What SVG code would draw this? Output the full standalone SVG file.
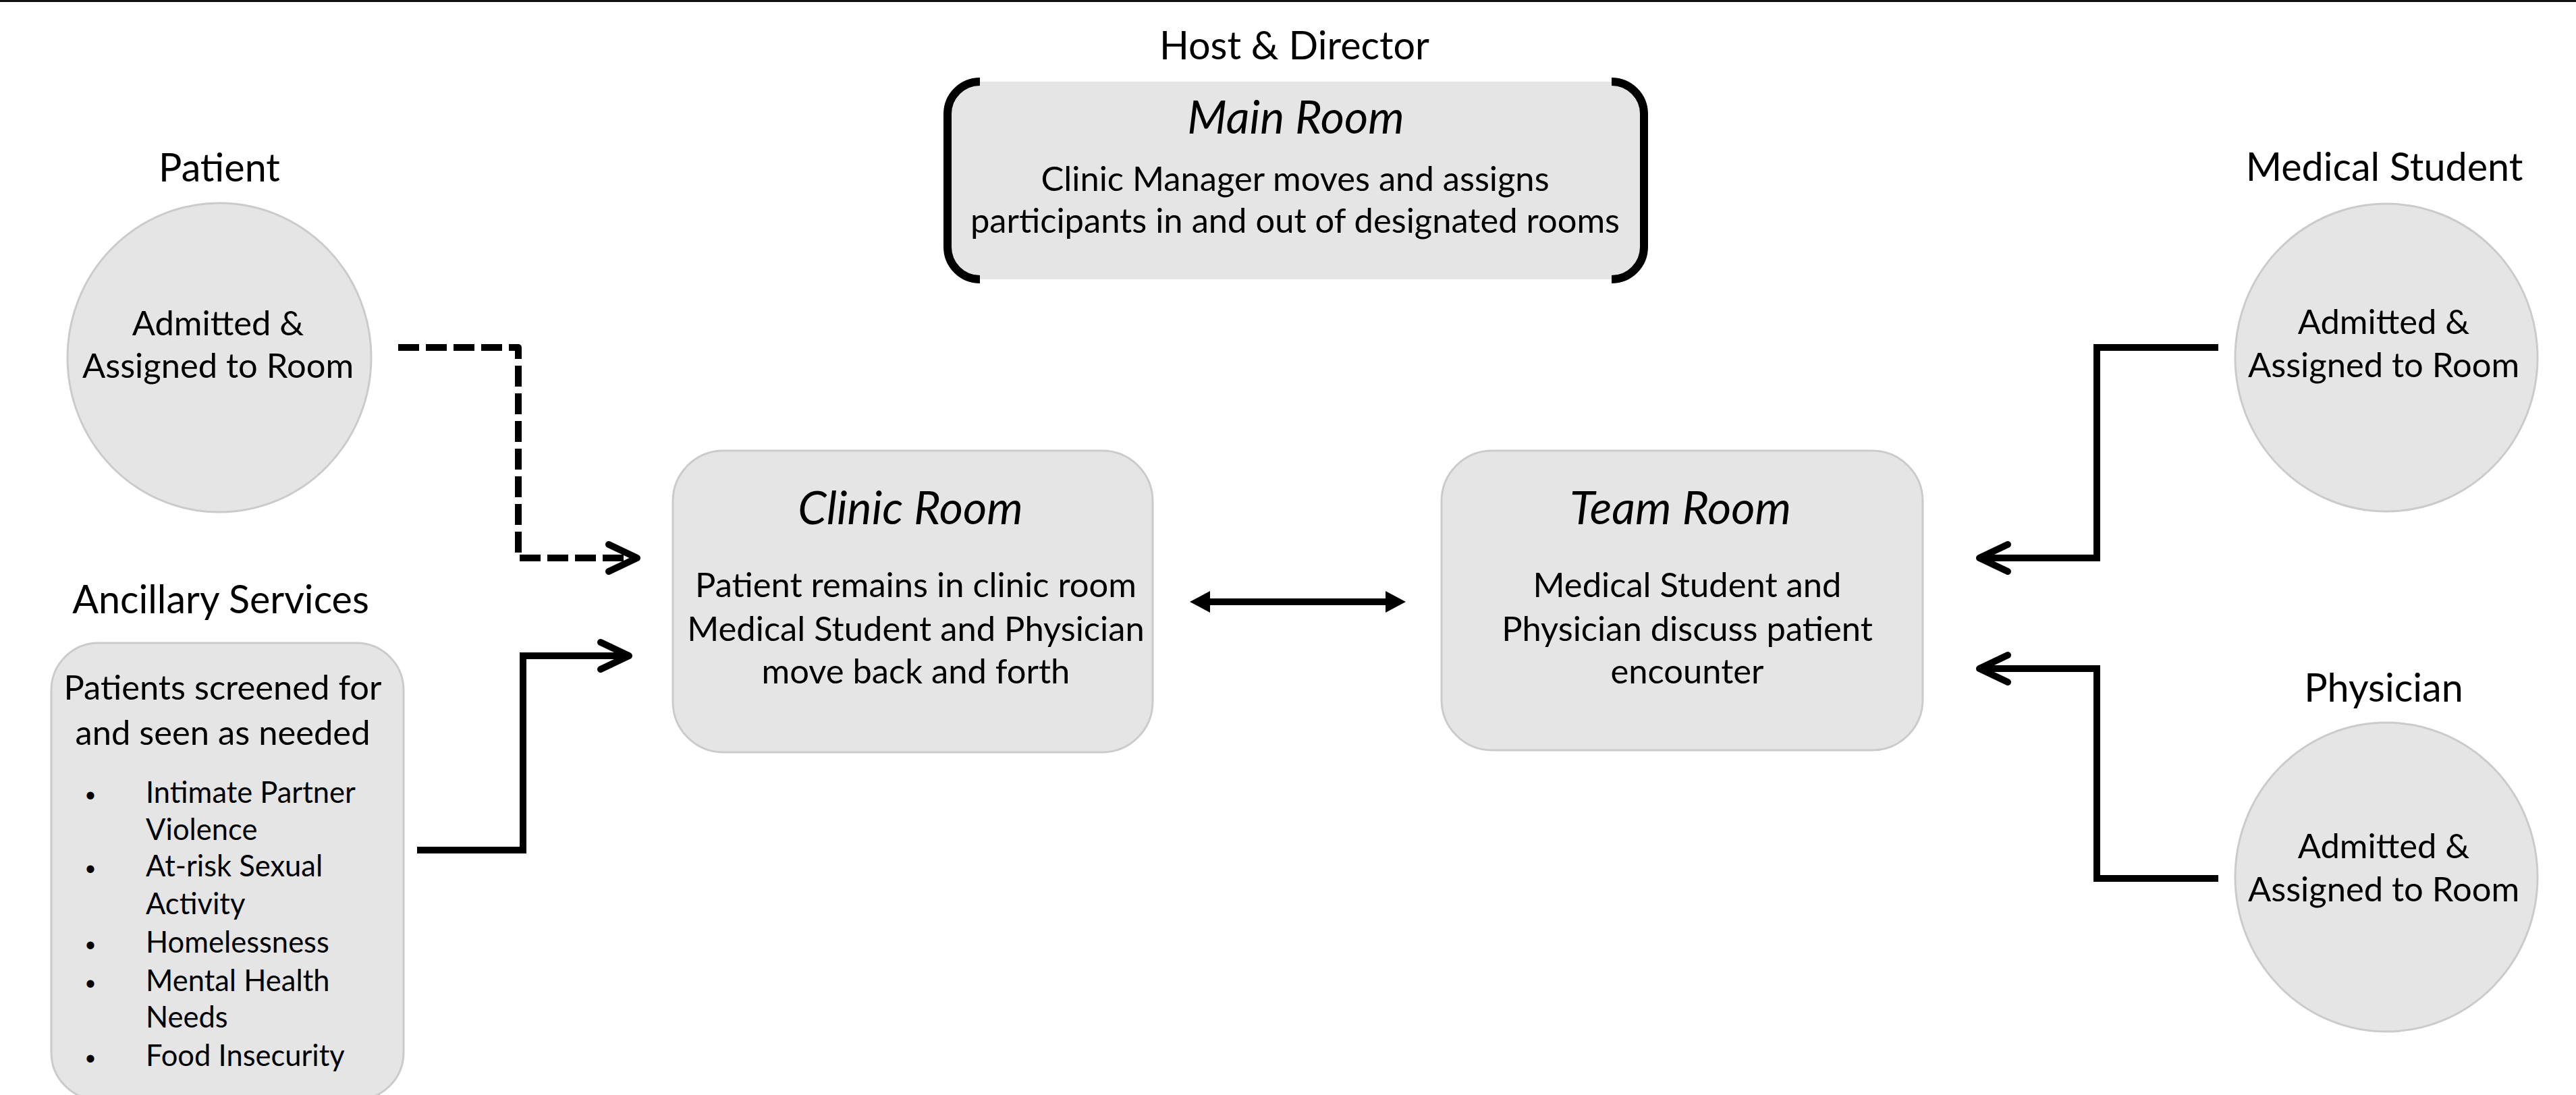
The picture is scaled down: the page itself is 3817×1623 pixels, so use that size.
<svg xmlns="http://www.w3.org/2000/svg" width="3817" height="1623" viewBox="0 0 3817 1623">
<style>
text{font-family:Lato,"Liberation Sans",sans-serif;fill:#000}
.lbl{font-size:57.5px;text-anchor:middle}
.body{font-size:50.7px;text-anchor:middle}
.ttl{font-size:68px;font-style:italic;text-anchor:middle}
.bul{font-size:43.5px}
.dot{font-size:30px;text-anchor:middle}
.shape{fill:#e5e5e5;stroke:#cbcbcb;stroke-width:3}
.ln{fill:none;stroke:#000;stroke-width:10;stroke-linejoin:miter}
.dash{fill:none;stroke:#000;stroke-width:10;stroke-dasharray:31 10;stroke-linejoin:round}
.head{fill:none;stroke:#000;stroke-width:10;stroke-linecap:round;stroke-linejoin:round}
.brk{fill:none;stroke:#000;stroke-width:12}
</style>
<rect x="0" y="0" width="3817" height="3" fill="#111"/>
<g id="main-room">
<text class="lbl" x="1918" y="88">Host &amp; Director</text>
<rect x="1404" y="121" width="1032" height="293" rx="48" fill="#e5e5e5"/>
<path class="brk" d="M1452,121 A48,48 0 0 0 1404,169 L1404,366 A48,48 0 0 0 1452,414"/>
<path class="brk" d="M2388,121 A48,48 0 0 1 2436,169 L2436,366 A48,48 0 0 1 2388,414"/>
<text class="ttl" x="1920" y="198">Main Room</text>
<text class="body" x="1919" y="283">Clinic Manager moves and assigns</text>
<text class="body" x="1919" y="345">participants in and out of designated rooms</text>
</g>
<g id="patient">
<text class="lbl" x="325" y="269">Patient</text>
<ellipse class="shape" cx="325" cy="530" rx="225" ry="229"/>
<text class="body" x="323" y="497">Admitted &amp;</text>
<text class="body" x="323" y="560">Assigned to Room</text>
</g>
<g id="ancillary">
<text class="lbl" x="327" y="909">Ancillary Services</text>
<rect class="shape" x="76" y="953" width="522" height="677" rx="70"/>
<text class="body" x="330" y="1037">Patients screened for</text>
<text class="body" x="330" y="1104">and seen as needed</text>
<g class="bul">
<text class="dot" x="134" y="1188">•</text><text x="216" y="1190">Intimate Partner</text>
<text x="216" y="1245">Violence</text>
<text class="dot" x="134" y="1297">•</text><text x="216" y="1299">At-risk Sexual</text>
<text x="216" y="1355">Activity</text>
<text class="dot" x="134" y="1410">•</text><text x="216" y="1412">Homelessness</text>
<text class="dot" x="134" y="1467">•</text><text x="216" y="1469">Mental Health</text>
<text x="216" y="1523">Needs</text>
<text class="dot" x="134" y="1578">•</text><text x="216" y="1580">Food Insecurity</text>
</g>
</g>
<g id="clinic-room">
<rect class="shape" x="997" y="668" width="711" height="447" rx="75"/>
<text class="ttl" x="1349" y="777">Clinic Room</text>
<text class="body" x="1357" y="885">Patient remains in clinic room</text>
<text class="body" x="1357" y="950">Medical Student and Physician</text>
<text class="body" x="1357" y="1013">move back and forth</text>
</g>
<g id="team-room">
<rect class="shape" x="2136" y="668" width="713" height="444" rx="75"/>
<text class="ttl" x="2490" y="777">Team Room</text>
<text class="body" x="2500" y="885">Medical Student and</text>
<text class="body" x="2500" y="950">Physician discuss patient</text>
<text class="body" x="2500" y="1013">encounter</text>
</g>
<g id="medical-student">
<text class="lbl" x="3533" y="268">Medical Student</text>
<ellipse class="shape" cx="3536" cy="530" rx="224" ry="228"/>
<text class="body" x="3532" y="495">Admitted &amp;</text>
<text class="body" x="3532" y="559">Assigned to Room</text>
</g>
<g id="physician">
<text class="lbl" x="3532" y="1040">Physician</text>
<ellipse class="shape" cx="3536" cy="1300" rx="224" ry="229"/>
<text class="body" x="3532" y="1272">Admitted &amp;</text>
<text class="body" x="3532" y="1336">Assigned to Room</text>
</g>
<g id="connectors">
<path class="dash" d="M590,515 L768,515 L768,827 L940,827"/>
<path class="head" d="M902,807 L944,827 L902,847"/>
<path class="ln" d="M618,1260 L775,1260 L775,972 L928,972"/>
<path class="head" d="M890,952 L932,972 L890,992"/>
<line x1="1790" y1="892" x2="2056" y2="892" stroke="#000" stroke-width="10"/>
<polygon points="1763,892 1793,876 1793,908" fill="#000"/>
<polygon points="2083,892 2053,876 2053,908" fill="#000"/>
<path class="ln" d="M3287,515 L3107,515 L3107,827 L2937,827"/>
<path class="head" d="M2975,807 L2933,827 L2975,847"/>
<path class="ln" d="M3287,1302 L3107,1302 L3107,991 L2937,991"/>
<path class="head" d="M2975,971 L2933,991 L2975,1011"/>
</g>
</svg>
